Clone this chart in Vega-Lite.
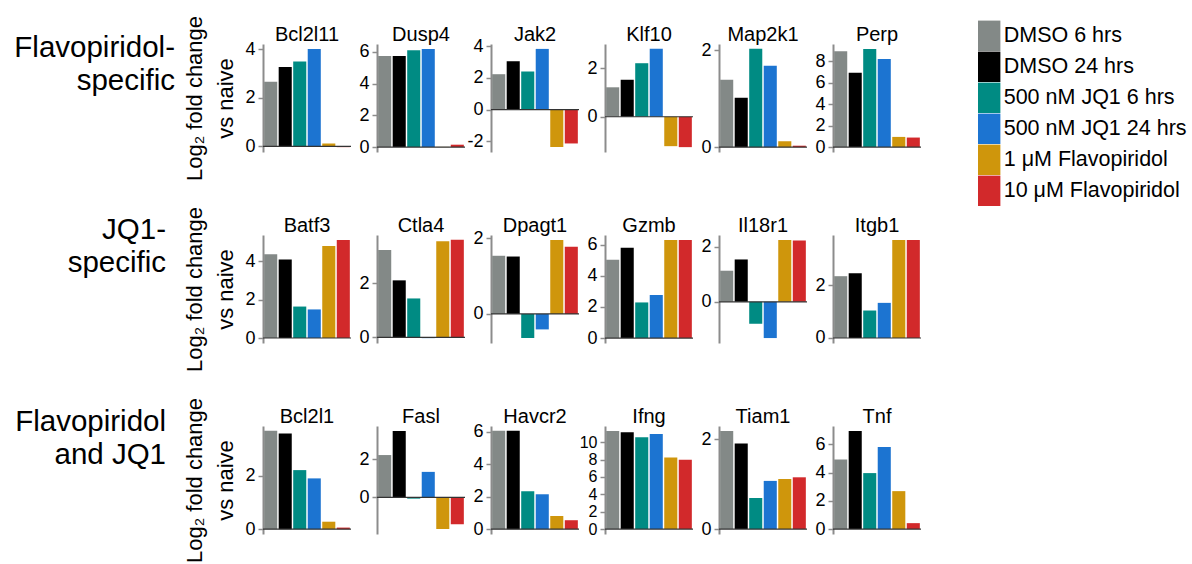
{
"$schema": "https://vega.github.io/schema/vega-lite/v6.json",
"padding": {"left": 7, "top": 15, "right": 5, "bottom": 0},
"datasets": {"d": [
{"gene":"Bcl2l11","condition":"DMSO 6 hrs","value":2.66},{"gene":"Bcl2l11","condition":"DMSO 24 hrs","value":3.27},{"gene":"Bcl2l11","condition":"500 nM JQ1 6 hrs","value":3.50},{"gene":"Bcl2l11","condition":"500 nM JQ1 24 hrs","value":4.01},{"gene":"Bcl2l11","condition":"1 μM Flavopiridol","value":0.12},{"gene":"Bcl2l11","condition":"10 μM Flavopiridol","value":-0.03},
{"gene":"Dusp4","condition":"DMSO 6 hrs","value":5.74},{"gene":"Dusp4","condition":"DMSO 24 hrs","value":5.74},{"gene":"Dusp4","condition":"500 nM JQ1 6 hrs","value":6.10},{"gene":"Dusp4","condition":"500 nM JQ1 24 hrs","value":6.18},{"gene":"Dusp4","condition":"1 μM Flavopiridol","value":0.01},{"gene":"Dusp4","condition":"10 μM Flavopiridol","value":0.15},
{"gene":"Jak2","condition":"DMSO 6 hrs","value":2.24},{"gene":"Jak2","condition":"DMSO 24 hrs","value":3.06},{"gene":"Jak2","condition":"500 nM JQ1 6 hrs","value":2.41},{"gene":"Jak2","condition":"500 nM JQ1 24 hrs","value":3.84},{"gene":"Jak2","condition":"1 μM Flavopiridol","value":-2.37},{"gene":"Jak2","condition":"10 μM Flavopiridol","value":-2.14},
{"gene":"Klf10","condition":"DMSO 6 hrs","value":1.21},{"gene":"Klf10","condition":"DMSO 24 hrs","value":1.52},{"gene":"Klf10","condition":"500 nM JQ1 6 hrs","value":2.20},{"gene":"Klf10","condition":"500 nM JQ1 24 hrs","value":2.79},{"gene":"Klf10","condition":"1 μM Flavopiridol","value":-1.21},{"gene":"Klf10","condition":"10 μM Flavopiridol","value":-1.25},
{"gene":"Map2k1","condition":"DMSO 6 hrs","value":1.39},{"gene":"Map2k1","condition":"DMSO 24 hrs","value":1.02},{"gene":"Map2k1","condition":"500 nM JQ1 6 hrs","value":2.03},{"gene":"Map2k1","condition":"500 nM JQ1 24 hrs","value":1.68},{"gene":"Map2k1","condition":"1 μM Flavopiridol","value":0.12},{"gene":"Map2k1","condition":"10 μM Flavopiridol","value":0.03},
{"gene":"Perp","condition":"DMSO 6 hrs","value":8.95},{"gene":"Perp","condition":"DMSO 24 hrs","value":6.95},{"gene":"Perp","condition":"500 nM JQ1 6 hrs","value":9.17},{"gene":"Perp","condition":"500 nM JQ1 24 hrs","value":8.22},{"gene":"Perp","condition":"1 μM Flavopiridol","value":0.95},{"gene":"Perp","condition":"10 μM Flavopiridol","value":0.89},
{"gene":"Batf3","condition":"DMSO 6 hrs","value":4.36},{"gene":"Batf3","condition":"DMSO 24 hrs","value":4.09},{"gene":"Batf3","condition":"500 nM JQ1 6 hrs","value":1.64},{"gene":"Batf3","condition":"500 nM JQ1 24 hrs","value":1.49},{"gene":"Batf3","condition":"1 μM Flavopiridol","value":4.80},{"gene":"Batf3","condition":"10 μM Flavopiridol","value":5.11},
{"gene":"Ctla4","condition":"DMSO 6 hrs","value":3.23},{"gene":"Ctla4","condition":"DMSO 24 hrs","value":2.11},{"gene":"Ctla4","condition":"500 nM JQ1 6 hrs","value":1.44},{"gene":"Ctla4","condition":"500 nM JQ1 24 hrs","value":-0.03},{"gene":"Ctla4","condition":"1 μM Flavopiridol","value":3.56},{"gene":"Ctla4","condition":"10 μM Flavopiridol","value":3.61},
{"gene":"Dpagt1","condition":"DMSO 6 hrs","value":1.54},{"gene":"Dpagt1","condition":"DMSO 24 hrs","value":1.52},{"gene":"Dpagt1","condition":"500 nM JQ1 6 hrs","value":-0.64},{"gene":"Dpagt1","condition":"500 nM JQ1 24 hrs","value":-0.41},{"gene":"Dpagt1","condition":"1 μM Flavopiridol","value":1.96},{"gene":"Dpagt1","condition":"10 μM Flavopiridol","value":1.78},
{"gene":"Gzmb","condition":"DMSO 6 hrs","value":5.03},{"gene":"Gzmb","condition":"DMSO 24 hrs","value":5.81},{"gene":"Gzmb","condition":"500 nM JQ1 6 hrs","value":2.29},{"gene":"Gzmb","condition":"500 nM JQ1 24 hrs","value":2.77},{"gene":"Gzmb","condition":"1 μM Flavopiridol","value":6.31},{"gene":"Gzmb","condition":"10 μM Flavopiridol","value":6.31},
{"gene":"Il18r1","condition":"DMSO 6 hrs","value":1.13},{"gene":"Il18r1","condition":"DMSO 24 hrs","value":1.54},{"gene":"Il18r1","condition":"500 nM JQ1 6 hrs","value":-0.80},{"gene":"Il18r1","condition":"500 nM JQ1 24 hrs","value":-1.32},{"gene":"Il18r1","condition":"1 μM Flavopiridol","value":2.25},{"gene":"Il18r1","condition":"10 μM Flavopiridol","value":2.23},
{"gene":"Itgb1","condition":"DMSO 6 hrs","value":2.34},{"gene":"Itgb1","condition":"DMSO 24 hrs","value":2.45},{"gene":"Itgb1","condition":"500 nM JQ1 6 hrs","value":1.04},{"gene":"Itgb1","condition":"500 nM JQ1 24 hrs","value":1.33},{"gene":"Itgb1","condition":"1 μM Flavopiridol","value":3.71},{"gene":"Itgb1","condition":"10 μM Flavopiridol","value":3.71},
{"gene":"Bcl2l1","condition":"DMSO 6 hrs","value":3.68},{"gene":"Bcl2l1","condition":"DMSO 24 hrs","value":3.58},{"gene":"Bcl2l1","condition":"500 nM JQ1 6 hrs","value":2.21},{"gene":"Bcl2l1","condition":"500 nM JQ1 24 hrs","value":1.90},{"gene":"Bcl2l1","condition":"1 μM Flavopiridol","value":0.28},{"gene":"Bcl2l1","condition":"10 μM Flavopiridol","value":0.06},
{"gene":"Fasl","condition":"DMSO 6 hrs","value":2.21},{"gene":"Fasl","condition":"DMSO 24 hrs","value":3.47},{"gene":"Fasl","condition":"500 nM JQ1 6 hrs","value":-0.07},{"gene":"Fasl","condition":"500 nM JQ1 24 hrs","value":1.33},{"gene":"Fasl","condition":"1 μM Flavopiridol","value":-1.66},{"gene":"Fasl","condition":"10 μM Flavopiridol","value":-1.41},
{"gene":"Havcr2","condition":"DMSO 6 hrs","value":6.06},{"gene":"Havcr2","condition":"DMSO 24 hrs","value":6.06},{"gene":"Havcr2","condition":"500 nM JQ1 6 hrs","value":2.34},{"gene":"Havcr2","condition":"500 nM JQ1 24 hrs","value":2.15},{"gene":"Havcr2","condition":"1 μM Flavopiridol","value":0.81},{"gene":"Havcr2","condition":"10 μM Flavopiridol","value":0.55},
{"gene":"Ifng","condition":"DMSO 6 hrs","value":11.30},{"gene":"Ifng","condition":"DMSO 24 hrs","value":11.15},{"gene":"Ifng","condition":"500 nM JQ1 6 hrs","value":10.57},{"gene":"Ifng","condition":"500 nM JQ1 24 hrs","value":10.96},{"gene":"Ifng","condition":"1 μM Flavopiridol","value":8.24},{"gene":"Ifng","condition":"10 μM Flavopiridol","value":7.97},
{"gene":"Tiam1","condition":"DMSO 6 hrs","value":2.18},{"gene":"Tiam1","condition":"DMSO 24 hrs","value":1.90},{"gene":"Tiam1","condition":"500 nM JQ1 6 hrs","value":0.69},{"gene":"Tiam1","condition":"500 nM JQ1 24 hrs","value":1.07},{"gene":"Tiam1","condition":"1 μM Flavopiridol","value":1.11},{"gene":"Tiam1","condition":"10 μM Flavopiridol","value":1.15},
{"gene":"Tnf","condition":"DMSO 6 hrs","value":4.93},{"gene":"Tnf","condition":"DMSO 24 hrs","value":6.96},{"gene":"Tnf","condition":"500 nM JQ1 6 hrs","value":3.97},{"gene":"Tnf","condition":"500 nM JQ1 24 hrs","value":5.82},{"gene":"Tnf","condition":"1 μM Flavopiridol","value":2.69},{"gene":"Tnf","condition":"10 μM Flavopiridol","value":0.42}
]},
"config": {
 "font": "Liberation Sans",
 "view": {"stroke": null},
 "axisY": {"domainColor": "#8c8c8c", "domainWidth": 2, "tickColor": "#8c8c8c", "tickSize": 5, "tickWidth": 1.5, "labelFontSize": 18, "labelColor": "#000", "labelPadding": 3, "labelFont": "Liberation Sans", "grid": false, "labelOverlap": false, "titleFontSize": 22, "titleFontWeight": "normal", "titleColor": "#000", "titleFont": "Liberation Sans", "titleLineHeight": 31, "titlePadding": 7},
 "bar": {"strokeWidth": 0},
 "rule": {"color": "#333333", "strokeWidth": 1.2},
 "text": {"font": "Liberation Sans", "color": "#000"},
 "legend": {"labelFontSize": 21.5, "labelFont": "Liberation Sans", "labelColor": "#000", "labelLimit": 400, "symbolStrokeWidth": 0, "rowPadding": 0, "labelOffset": 3, "padding": 0, "orient": "none", "legendX": 970.7, "legendY": -19.7}
},
"spacing": 25,
"vconcat": [
{"bounds": "flush", "spacing": 26, "hconcat": [
 {"width": 230, "height": 108, "data": {"values": [{"label": "Flavopiridol-\nspecific"}]}, "mark": {"type": "text", "align": "right", "baseline": "alphabetic", "fontSize": 29.5, "lineHeight": 33, "lineBreak": "\n", "dx": -62, "dy": -41}, "encoding": {"text": {"field": "label", "type": "nominal"}, "x": {"value": "width"}}},
  {"width": 88, "height": 108, "layer": [{"data": {"name": "d"}, "transform": [{"filter": "datum.gene === 'Bcl2l11'"}], "mark": "bar", "encoding": {"x": {"field": "condition", "type": "nominal", "sort": ["DMSO 6 hrs","DMSO 24 hrs","500 nM JQ1 6 hrs","500 nM JQ1 24 hrs","1 μM Flavopiridol","10 μM Flavopiridol"], "axis": null, "scale": {"paddingInner": 0.1, "paddingOuter": 0.08}}, "y": {"field": "value", "type": "quantitative", "scale": {"domain": [-0.23, 4.22], "nice": false, "zero": false}, "axis": {"values": [0, 2, 4], "tickCount": 12, "labelExpr": "'' + datum.value", "title": ["Log₂ fold change", "vs naive"]}}, "color": {"field": "condition", "type": "nominal", "scale": {"domain": ["DMSO 6 hrs","DMSO 24 hrs","500 nM JQ1 6 hrs","500 nM JQ1 24 hrs","1 μM Flavopiridol","10 μM Flavopiridol"], "range": ["#838987","#000000","#008B83","#1C74D1","#CF960C","#D2292B"]}, "legend": {"title": null, "symbolType": "M-1,-1.36H1V1.36H-1Z", "symbolSize": 500}}}}, {"data": {"values": [{}]}, "mark": "rule", "encoding": {"y": {"datum": 0, "type": "quantitative"}}}, {"data": {"values": [{"gene": "Bcl2l11"}]}, "mark": {"type": "text", "fontSize": 20, "baseline": "alphabetic", "dy": -3}, "encoding": {"text": {"field": "gene", "type": "nominal"}, "y": {"datum": 4.22, "type": "quantitative"}}}]},
  {"width": 88, "height": 108, "layer": [{"data": {"name": "d"}, "transform": [{"filter": "datum.gene === 'Dusp4'"}], "mark": "bar", "encoding": {"x": {"field": "condition", "type": "nominal", "sort": ["DMSO 6 hrs","DMSO 24 hrs","500 nM JQ1 6 hrs","500 nM JQ1 24 hrs","1 μM Flavopiridol","10 μM Flavopiridol"], "axis": null, "scale": {"paddingInner": 0.1, "paddingOuter": 0.08}}, "y": {"field": "value", "type": "quantitative", "scale": {"domain": [-0.31, 6.49], "nice": false, "zero": false}, "axis": {"values": [0, 2, 4, 6], "tickCount": 12, "labelExpr": "'' + datum.value", "title": null}}, "color": {"field": "condition", "type": "nominal", "scale": {"domain": ["DMSO 6 hrs","DMSO 24 hrs","500 nM JQ1 6 hrs","500 nM JQ1 24 hrs","1 μM Flavopiridol","10 μM Flavopiridol"], "range": ["#838987","#000000","#008B83","#1C74D1","#CF960C","#D2292B"]}, "legend": {"title": null, "symbolType": "M-1,-1.36H1V1.36H-1Z", "symbolSize": 500}}}}, {"data": {"values": [{}]}, "mark": "rule", "encoding": {"y": {"datum": 0, "type": "quantitative"}}}, {"data": {"values": [{"gene": "Dusp4"}]}, "mark": {"type": "text", "fontSize": 20, "baseline": "alphabetic", "dy": -3}, "encoding": {"text": {"field": "gene", "type": "nominal"}, "y": {"datum": 6.49, "type": "quantitative"}}}]},
  {"width": 88, "height": 108, "layer": [{"data": {"name": "d"}, "transform": [{"filter": "datum.gene === 'Jak2'"}], "mark": "bar", "encoding": {"x": {"field": "condition", "type": "nominal", "sort": ["DMSO 6 hrs","DMSO 24 hrs","500 nM JQ1 6 hrs","500 nM JQ1 24 hrs","1 μM Flavopiridol","10 μM Flavopiridol"], "axis": null, "scale": {"paddingInner": 0.1, "paddingOuter": 0.08}}, "y": {"field": "value", "type": "quantitative", "scale": {"domain": [-2.68, 4.15], "nice": false, "zero": false}, "axis": {"values": [-2, 0, 2, 4], "tickCount": 12, "labelExpr": "'' + datum.value", "title": null}}, "color": {"field": "condition", "type": "nominal", "scale": {"domain": ["DMSO 6 hrs","DMSO 24 hrs","500 nM JQ1 6 hrs","500 nM JQ1 24 hrs","1 μM Flavopiridol","10 μM Flavopiridol"], "range": ["#838987","#000000","#008B83","#1C74D1","#CF960C","#D2292B"]}, "legend": {"title": null, "symbolType": "M-1,-1.36H1V1.36H-1Z", "symbolSize": 500}}}}, {"data": {"values": [{}]}, "mark": "rule", "encoding": {"y": {"datum": 0, "type": "quantitative"}}}, {"data": {"values": [{"gene": "Jak2"}]}, "mark": {"type": "text", "fontSize": 20, "baseline": "alphabetic", "dy": -3}, "encoding": {"text": {"field": "gene", "type": "nominal"}, "y": {"datum": 4.15, "type": "quantitative"}}}]},
  {"width": 88, "height": 108, "layer": [{"data": {"name": "d"}, "transform": [{"filter": "datum.gene === 'Klf10'"}], "mark": "bar", "encoding": {"x": {"field": "condition", "type": "nominal", "sort": ["DMSO 6 hrs","DMSO 24 hrs","500 nM JQ1 6 hrs","500 nM JQ1 24 hrs","1 μM Flavopiridol","10 μM Flavopiridol"], "axis": null, "scale": {"paddingInner": 0.1, "paddingOuter": 0.08}}, "y": {"field": "value", "type": "quantitative", "scale": {"domain": [-1.45, 2.99], "nice": false, "zero": false}, "axis": {"values": [0, 2], "tickCount": 12, "labelExpr": "'' + datum.value", "title": null}}, "color": {"field": "condition", "type": "nominal", "scale": {"domain": ["DMSO 6 hrs","DMSO 24 hrs","500 nM JQ1 6 hrs","500 nM JQ1 24 hrs","1 μM Flavopiridol","10 μM Flavopiridol"], "range": ["#838987","#000000","#008B83","#1C74D1","#CF960C","#D2292B"]}, "legend": {"title": null, "symbolType": "M-1,-1.36H1V1.36H-1Z", "symbolSize": 500}}}}, {"data": {"values": [{}]}, "mark": "rule", "encoding": {"y": {"datum": 0, "type": "quantitative"}}}, {"data": {"values": [{"gene": "Klf10"}]}, "mark": {"type": "text", "fontSize": 20, "baseline": "alphabetic", "dy": -3}, "encoding": {"text": {"field": "gene", "type": "nominal"}, "y": {"datum": 2.99, "type": "quantitative"}}}]},
  {"width": 88, "height": 108, "layer": [{"data": {"name": "d"}, "transform": [{"filter": "datum.gene === 'Map2k1'"}], "mark": "bar", "encoding": {"x": {"field": "condition", "type": "nominal", "sort": ["DMSO 6 hrs","DMSO 24 hrs","500 nM JQ1 6 hrs","500 nM JQ1 24 hrs","1 μM Flavopiridol","10 μM Flavopiridol"], "axis": null, "scale": {"paddingInner": 0.1, "paddingOuter": 0.08}}, "y": {"field": "value", "type": "quantitative", "scale": {"domain": [-0.10, 2.13], "nice": false, "zero": false}, "axis": {"values": [0, 2], "tickCount": 12, "labelExpr": "'' + datum.value", "title": null}}, "color": {"field": "condition", "type": "nominal", "scale": {"domain": ["DMSO 6 hrs","DMSO 24 hrs","500 nM JQ1 6 hrs","500 nM JQ1 24 hrs","1 μM Flavopiridol","10 μM Flavopiridol"], "range": ["#838987","#000000","#008B83","#1C74D1","#CF960C","#D2292B"]}, "legend": {"title": null, "symbolType": "M-1,-1.36H1V1.36H-1Z", "symbolSize": 500}}}}, {"data": {"values": [{}]}, "mark": "rule", "encoding": {"y": {"datum": 0, "type": "quantitative"}}}, {"data": {"values": [{"gene": "Map2k1"}]}, "mark": {"type": "text", "fontSize": 20, "baseline": "alphabetic", "dy": -3}, "encoding": {"text": {"field": "gene", "type": "nominal"}, "y": {"datum": 2.13, "type": "quantitative"}}}]},
  {"width": 88, "height": 108, "layer": [{"data": {"name": "d"}, "transform": [{"filter": "datum.gene === 'Perp'"}], "mark": "bar", "encoding": {"x": {"field": "condition", "type": "nominal", "sort": ["DMSO 6 hrs","DMSO 24 hrs","500 nM JQ1 6 hrs","500 nM JQ1 24 hrs","1 μM Flavopiridol","10 μM Flavopiridol"], "axis": null, "scale": {"paddingInner": 0.1, "paddingOuter": 0.08}}, "y": {"field": "value", "type": "quantitative", "scale": {"domain": [-0.46, 9.63], "nice": false, "zero": false}, "axis": {"values": [0, 2, 4, 6, 8], "tickCount": 12, "labelExpr": "'' + datum.value", "title": null}}, "color": {"field": "condition", "type": "nominal", "scale": {"domain": ["DMSO 6 hrs","DMSO 24 hrs","500 nM JQ1 6 hrs","500 nM JQ1 24 hrs","1 μM Flavopiridol","10 μM Flavopiridol"], "range": ["#838987","#000000","#008B83","#1C74D1","#CF960C","#D2292B"]}, "legend": {"title": null, "symbolType": "M-1,-1.36H1V1.36H-1Z", "symbolSize": 500}}}}, {"data": {"values": [{}]}, "mark": "rule", "encoding": {"y": {"datum": 0, "type": "quantitative"}}}, {"data": {"values": [{"gene": "Perp"}]}, "mark": {"type": "text", "fontSize": 20, "baseline": "alphabetic", "dy": -3}, "encoding": {"text": {"field": "gene", "type": "nominal"}, "y": {"datum": 9.63, "type": "quantitative"}}}]}
]},
{"bounds": "flush", "spacing": 26, "hconcat": [
 {"width": 230, "height": 108, "data": {"values": [{"label": "JQ1-\nspecific"}]}, "mark": {"type": "text", "align": "right", "baseline": "alphabetic", "fontSize": 29.5, "lineHeight": 33, "lineBreak": "\n", "dx": -71, "dy": -50}, "encoding": {"text": {"field": "label", "type": "nominal"}, "x": {"value": "width"}}},
  {"width": 88, "height": 108, "layer": [{"data": {"name": "d"}, "transform": [{"filter": "datum.gene === 'Batf3'"}], "mark": "bar", "encoding": {"x": {"field": "condition", "type": "nominal", "sort": ["DMSO 6 hrs","DMSO 24 hrs","500 nM JQ1 6 hrs","500 nM JQ1 24 hrs","1 μM Flavopiridol","10 μM Flavopiridol"], "axis": null, "scale": {"paddingInner": 0.1, "paddingOuter": 0.08}}, "y": {"field": "value", "type": "quantitative", "scale": {"domain": [-0.26, 5.37], "nice": false, "zero": false}, "axis": {"values": [0, 2, 4], "tickCount": 12, "labelExpr": "'' + datum.value", "title": ["Log₂ fold change", "vs naive"]}}, "color": {"field": "condition", "type": "nominal", "scale": {"domain": ["DMSO 6 hrs","DMSO 24 hrs","500 nM JQ1 6 hrs","500 nM JQ1 24 hrs","1 μM Flavopiridol","10 μM Flavopiridol"], "range": ["#838987","#000000","#008B83","#1C74D1","#CF960C","#D2292B"]}, "legend": {"title": null, "symbolType": "M-1,-1.36H1V1.36H-1Z", "symbolSize": 500}}}}, {"data": {"values": [{}]}, "mark": "rule", "encoding": {"y": {"datum": 0, "type": "quantitative"}}}, {"data": {"values": [{"gene": "Batf3"}]}, "mark": {"type": "text", "fontSize": 20, "baseline": "alphabetic", "dy": -3}, "encoding": {"text": {"field": "gene", "type": "nominal"}, "y": {"datum": 5.37, "type": "quantitative"}}}]},
  {"width": 88, "height": 108, "layer": [{"data": {"name": "d"}, "transform": [{"filter": "datum.gene === 'Ctla4'"}], "mark": "bar", "encoding": {"x": {"field": "condition", "type": "nominal", "sort": ["DMSO 6 hrs","DMSO 24 hrs","500 nM JQ1 6 hrs","500 nM JQ1 24 hrs","1 μM Flavopiridol","10 μM Flavopiridol"], "axis": null, "scale": {"paddingInner": 0.1, "paddingOuter": 0.08}}, "y": {"field": "value", "type": "quantitative", "scale": {"domain": [-0.21, 3.79], "nice": false, "zero": false}, "axis": {"values": [0, 2], "tickCount": 12, "labelExpr": "'' + datum.value", "title": null}}, "color": {"field": "condition", "type": "nominal", "scale": {"domain": ["DMSO 6 hrs","DMSO 24 hrs","500 nM JQ1 6 hrs","500 nM JQ1 24 hrs","1 μM Flavopiridol","10 μM Flavopiridol"], "range": ["#838987","#000000","#008B83","#1C74D1","#CF960C","#D2292B"]}, "legend": {"title": null, "symbolType": "M-1,-1.36H1V1.36H-1Z", "symbolSize": 500}}}}, {"data": {"values": [{}]}, "mark": "rule", "encoding": {"y": {"datum": 0, "type": "quantitative"}}}, {"data": {"values": [{"gene": "Ctla4"}]}, "mark": {"type": "text", "fontSize": 20, "baseline": "alphabetic", "dy": -3}, "encoding": {"text": {"field": "gene", "type": "nominal"}, "y": {"datum": 3.79, "type": "quantitative"}}}]},
  {"width": 88, "height": 108, "layer": [{"data": {"name": "d"}, "transform": [{"filter": "datum.gene === 'Dpagt1'"}], "mark": "bar", "encoding": {"x": {"field": "condition", "type": "nominal", "sort": ["DMSO 6 hrs","DMSO 24 hrs","500 nM JQ1 6 hrs","500 nM JQ1 24 hrs","1 μM Flavopiridol","10 μM Flavopiridol"], "axis": null, "scale": {"paddingInner": 0.1, "paddingOuter": 0.08}}, "y": {"field": "value", "type": "quantitative", "scale": {"domain": [-0.77, 2.09], "nice": false, "zero": false}, "axis": {"values": [0, 2], "tickCount": 12, "labelExpr": "'' + datum.value", "title": null}}, "color": {"field": "condition", "type": "nominal", "scale": {"domain": ["DMSO 6 hrs","DMSO 24 hrs","500 nM JQ1 6 hrs","500 nM JQ1 24 hrs","1 μM Flavopiridol","10 μM Flavopiridol"], "range": ["#838987","#000000","#008B83","#1C74D1","#CF960C","#D2292B"]}, "legend": {"title": null, "symbolType": "M-1,-1.36H1V1.36H-1Z", "symbolSize": 500}}}}, {"data": {"values": [{}]}, "mark": "rule", "encoding": {"y": {"datum": 0, "type": "quantitative"}}}, {"data": {"values": [{"gene": "Dpagt1"}]}, "mark": {"type": "text", "fontSize": 20, "baseline": "alphabetic", "dy": -3}, "encoding": {"text": {"field": "gene", "type": "nominal"}, "y": {"datum": 2.09, "type": "quantitative"}}}]},
  {"width": 88, "height": 108, "layer": [{"data": {"name": "d"}, "transform": [{"filter": "datum.gene === 'Gzmb'"}], "mark": "bar", "encoding": {"x": {"field": "condition", "type": "nominal", "sort": ["DMSO 6 hrs","DMSO 24 hrs","500 nM JQ1 6 hrs","500 nM JQ1 24 hrs","1 μM Flavopiridol","10 μM Flavopiridol"], "axis": null, "scale": {"paddingInner": 0.1, "paddingOuter": 0.08}}, "y": {"field": "value", "type": "quantitative", "scale": {"domain": [-0.32, 6.63], "nice": false, "zero": false}, "axis": {"values": [0, 2, 4, 6], "tickCount": 12, "labelExpr": "'' + datum.value", "title": null}}, "color": {"field": "condition", "type": "nominal", "scale": {"domain": ["DMSO 6 hrs","DMSO 24 hrs","500 nM JQ1 6 hrs","500 nM JQ1 24 hrs","1 μM Flavopiridol","10 μM Flavopiridol"], "range": ["#838987","#000000","#008B83","#1C74D1","#CF960C","#D2292B"]}, "legend": {"title": null, "symbolType": "M-1,-1.36H1V1.36H-1Z", "symbolSize": 500}}}}, {"data": {"values": [{}]}, "mark": "rule", "encoding": {"y": {"datum": 0, "type": "quantitative"}}}, {"data": {"values": [{"gene": "Gzmb"}]}, "mark": {"type": "text", "fontSize": 20, "baseline": "alphabetic", "dy": -3}, "encoding": {"text": {"field": "gene", "type": "nominal"}, "y": {"datum": 6.63, "type": "quantitative"}}}]},
  {"width": 88, "height": 108, "layer": [{"data": {"name": "d"}, "transform": [{"filter": "datum.gene === 'Il18r1'"}], "mark": "bar", "encoding": {"x": {"field": "condition", "type": "nominal", "sort": ["DMSO 6 hrs","DMSO 24 hrs","500 nM JQ1 6 hrs","500 nM JQ1 24 hrs","1 μM Flavopiridol","10 μM Flavopiridol"], "axis": null, "scale": {"paddingInner": 0.1, "paddingOuter": 0.08}}, "y": {"field": "value", "type": "quantitative", "scale": {"domain": [-1.50, 2.43], "nice": false, "zero": false}, "axis": {"values": [0, 2], "tickCount": 12, "labelExpr": "'' + datum.value", "title": null}}, "color": {"field": "condition", "type": "nominal", "scale": {"domain": ["DMSO 6 hrs","DMSO 24 hrs","500 nM JQ1 6 hrs","500 nM JQ1 24 hrs","1 μM Flavopiridol","10 μM Flavopiridol"], "range": ["#838987","#000000","#008B83","#1C74D1","#CF960C","#D2292B"]}, "legend": {"title": null, "symbolType": "M-1,-1.36H1V1.36H-1Z", "symbolSize": 500}}}}, {"data": {"values": [{}]}, "mark": "rule", "encoding": {"y": {"datum": 0, "type": "quantitative"}}}, {"data": {"values": [{"gene": "Il18r1"}]}, "mark": {"type": "text", "fontSize": 20, "baseline": "alphabetic", "dy": -3}, "encoding": {"text": {"field": "gene", "type": "nominal"}, "y": {"datum": 2.43, "type": "quantitative"}}}]},
  {"width": 88, "height": 108, "layer": [{"data": {"name": "d"}, "transform": [{"filter": "datum.gene === 'Itgb1'"}], "mark": "bar", "encoding": {"x": {"field": "condition", "type": "nominal", "sort": ["DMSO 6 hrs","DMSO 24 hrs","500 nM JQ1 6 hrs","500 nM JQ1 24 hrs","1 μM Flavopiridol","10 μM Flavopiridol"], "axis": null, "scale": {"paddingInner": 0.1, "paddingOuter": 0.08}}, "y": {"field": "value", "type": "quantitative", "scale": {"domain": [-0.19, 3.90], "nice": false, "zero": false}, "axis": {"values": [0, 2], "tickCount": 12, "labelExpr": "'' + datum.value", "title": null}}, "color": {"field": "condition", "type": "nominal", "scale": {"domain": ["DMSO 6 hrs","DMSO 24 hrs","500 nM JQ1 6 hrs","500 nM JQ1 24 hrs","1 μM Flavopiridol","10 μM Flavopiridol"], "range": ["#838987","#000000","#008B83","#1C74D1","#CF960C","#D2292B"]}, "legend": {"title": null, "symbolType": "M-1,-1.36H1V1.36H-1Z", "symbolSize": 500}}}}, {"data": {"values": [{}]}, "mark": "rule", "encoding": {"y": {"datum": 0, "type": "quantitative"}}}, {"data": {"values": [{"gene": "Itgb1"}]}, "mark": {"type": "text", "fontSize": 20, "baseline": "alphabetic", "dy": -3}, "encoding": {"text": {"field": "gene", "type": "nominal"}, "y": {"datum": 3.90, "type": "quantitative"}}}]}
]},
{"bounds": "flush", "spacing": 26, "hconcat": [
 {"width": 230, "height": 108, "data": {"values": [{"label": "Flavopiridol\nand JQ1"}]}, "mark": {"type": "text", "align": "right", "baseline": "alphabetic", "fontSize": 29.5, "lineHeight": 33, "lineBreak": "\n", "dx": -71, "dy": -49}, "encoding": {"text": {"field": "label", "type": "nominal"}, "x": {"value": "width"}}},
  {"width": 88, "height": 108, "layer": [{"data": {"name": "d"}, "transform": [{"filter": "datum.gene === 'Bcl2l1'"}], "mark": "bar", "encoding": {"x": {"field": "condition", "type": "nominal", "sort": ["DMSO 6 hrs","DMSO 24 hrs","500 nM JQ1 6 hrs","500 nM JQ1 24 hrs","1 μM Flavopiridol","10 μM Flavopiridol"], "axis": null, "scale": {"paddingInner": 0.1, "paddingOuter": 0.08}}, "y": {"field": "value", "type": "quantitative", "scale": {"domain": [-0.18, 3.86], "nice": false, "zero": false}, "axis": {"values": [0, 2], "tickCount": 12, "labelExpr": "'' + datum.value", "title": ["Log₂ fold change", "vs naive"]}}, "color": {"field": "condition", "type": "nominal", "scale": {"domain": ["DMSO 6 hrs","DMSO 24 hrs","500 nM JQ1 6 hrs","500 nM JQ1 24 hrs","1 μM Flavopiridol","10 μM Flavopiridol"], "range": ["#838987","#000000","#008B83","#1C74D1","#CF960C","#D2292B"]}, "legend": {"title": null, "symbolType": "M-1,-1.36H1V1.36H-1Z", "symbolSize": 500}}}}, {"data": {"values": [{}]}, "mark": "rule", "encoding": {"y": {"datum": 0, "type": "quantitative"}}}, {"data": {"values": [{"gene": "Bcl2l1"}]}, "mark": {"type": "text", "fontSize": 20, "baseline": "alphabetic", "dy": -3}, "encoding": {"text": {"field": "gene", "type": "nominal"}, "y": {"datum": 3.86, "type": "quantitative"}}}]},
  {"width": 88, "height": 108, "layer": [{"data": {"name": "d"}, "transform": [{"filter": "datum.gene === 'Fasl'"}], "mark": "bar", "encoding": {"x": {"field": "condition", "type": "nominal", "sort": ["DMSO 6 hrs","DMSO 24 hrs","500 nM JQ1 6 hrs","500 nM JQ1 24 hrs","1 μM Flavopiridol","10 μM Flavopiridol"], "axis": null, "scale": {"paddingInner": 0.1, "paddingOuter": 0.08}}, "y": {"field": "value", "type": "quantitative", "scale": {"domain": [-1.92, 3.73], "nice": false, "zero": false}, "axis": {"values": [0, 2], "tickCount": 12, "labelExpr": "'' + datum.value", "title": null}}, "color": {"field": "condition", "type": "nominal", "scale": {"domain": ["DMSO 6 hrs","DMSO 24 hrs","500 nM JQ1 6 hrs","500 nM JQ1 24 hrs","1 μM Flavopiridol","10 μM Flavopiridol"], "range": ["#838987","#000000","#008B83","#1C74D1","#CF960C","#D2292B"]}, "legend": {"title": null, "symbolType": "M-1,-1.36H1V1.36H-1Z", "symbolSize": 500}}}}, {"data": {"values": [{}]}, "mark": "rule", "encoding": {"y": {"datum": 0, "type": "quantitative"}}}, {"data": {"values": [{"gene": "Fasl"}]}, "mark": {"type": "text", "fontSize": 20, "baseline": "alphabetic", "dy": -3}, "encoding": {"text": {"field": "gene", "type": "nominal"}, "y": {"datum": 3.73, "type": "quantitative"}}}]},
  {"width": 88, "height": 108, "layer": [{"data": {"name": "d"}, "transform": [{"filter": "datum.gene === 'Havcr2'"}], "mark": "bar", "encoding": {"x": {"field": "condition", "type": "nominal", "sort": ["DMSO 6 hrs","DMSO 24 hrs","500 nM JQ1 6 hrs","500 nM JQ1 24 hrs","1 μM Flavopiridol","10 μM Flavopiridol"], "axis": null, "scale": {"paddingInner": 0.1, "paddingOuter": 0.08}}, "y": {"field": "value", "type": "quantitative", "scale": {"domain": [-0.30, 6.36], "nice": false, "zero": false}, "axis": {"values": [0, 2, 4, 6], "tickCount": 12, "labelExpr": "'' + datum.value", "title": null}}, "color": {"field": "condition", "type": "nominal", "scale": {"domain": ["DMSO 6 hrs","DMSO 24 hrs","500 nM JQ1 6 hrs","500 nM JQ1 24 hrs","1 μM Flavopiridol","10 μM Flavopiridol"], "range": ["#838987","#000000","#008B83","#1C74D1","#CF960C","#D2292B"]}, "legend": {"title": null, "symbolType": "M-1,-1.36H1V1.36H-1Z", "symbolSize": 500}}}}, {"data": {"values": [{}]}, "mark": "rule", "encoding": {"y": {"datum": 0, "type": "quantitative"}}}, {"data": {"values": [{"gene": "Havcr2"}]}, "mark": {"type": "text", "fontSize": 20, "baseline": "alphabetic", "dy": -3}, "encoding": {"text": {"field": "gene", "type": "nominal"}, "y": {"datum": 6.36, "type": "quantitative"}}}]},
  {"width": 88, "height": 108, "layer": [{"data": {"name": "d"}, "transform": [{"filter": "datum.gene === 'Ifng'"}], "mark": "bar", "encoding": {"x": {"field": "condition", "type": "nominal", "sort": ["DMSO 6 hrs","DMSO 24 hrs","500 nM JQ1 6 hrs","500 nM JQ1 24 hrs","1 μM Flavopiridol","10 μM Flavopiridol"], "axis": null, "scale": {"paddingInner": 0.1, "paddingOuter": 0.08}}, "y": {"field": "value", "type": "quantitative", "scale": {"domain": [-0.57, 11.87], "nice": false, "zero": false}, "axis": {"values": [0, 2, 4, 6, 8, 10], "tickCount": 12, "labelFontSize": 16, "labelExpr": "'' + datum.value", "title": null}}, "color": {"field": "condition", "type": "nominal", "scale": {"domain": ["DMSO 6 hrs","DMSO 24 hrs","500 nM JQ1 6 hrs","500 nM JQ1 24 hrs","1 μM Flavopiridol","10 μM Flavopiridol"], "range": ["#838987","#000000","#008B83","#1C74D1","#CF960C","#D2292B"]}, "legend": {"title": null, "symbolType": "M-1,-1.36H1V1.36H-1Z", "symbolSize": 500}}}}, {"data": {"values": [{}]}, "mark": "rule", "encoding": {"y": {"datum": 0, "type": "quantitative"}}}, {"data": {"values": [{"gene": "Ifng"}]}, "mark": {"type": "text", "fontSize": 20, "baseline": "alphabetic", "dy": -3}, "encoding": {"text": {"field": "gene", "type": "nominal"}, "y": {"datum": 11.87, "type": "quantitative"}}}]},
  {"width": 88, "height": 108, "layer": [{"data": {"name": "d"}, "transform": [{"filter": "datum.gene === 'Tiam1'"}], "mark": "bar", "encoding": {"x": {"field": "condition", "type": "nominal", "sort": ["DMSO 6 hrs","DMSO 24 hrs","500 nM JQ1 6 hrs","500 nM JQ1 24 hrs","1 μM Flavopiridol","10 μM Flavopiridol"], "axis": null, "scale": {"paddingInner": 0.1, "paddingOuter": 0.08}}, "y": {"field": "value", "type": "quantitative", "scale": {"domain": [-0.11, 2.29], "nice": false, "zero": false}, "axis": {"values": [0, 2], "tickCount": 12, "labelExpr": "'' + datum.value", "title": null}}, "color": {"field": "condition", "type": "nominal", "scale": {"domain": ["DMSO 6 hrs","DMSO 24 hrs","500 nM JQ1 6 hrs","500 nM JQ1 24 hrs","1 μM Flavopiridol","10 μM Flavopiridol"], "range": ["#838987","#000000","#008B83","#1C74D1","#CF960C","#D2292B"]}, "legend": {"title": null, "symbolType": "M-1,-1.36H1V1.36H-1Z", "symbolSize": 500}}}}, {"data": {"values": [{}]}, "mark": "rule", "encoding": {"y": {"datum": 0, "type": "quantitative"}}}, {"data": {"values": [{"gene": "Tiam1"}]}, "mark": {"type": "text", "fontSize": 20, "baseline": "alphabetic", "dy": -3}, "encoding": {"text": {"field": "gene", "type": "nominal"}, "y": {"datum": 2.29, "type": "quantitative"}}}]},
  {"width": 88, "height": 108, "layer": [{"data": {"name": "d"}, "transform": [{"filter": "datum.gene === 'Tnf'"}], "mark": "bar", "encoding": {"x": {"field": "condition", "type": "nominal", "sort": ["DMSO 6 hrs","DMSO 24 hrs","500 nM JQ1 6 hrs","500 nM JQ1 24 hrs","1 μM Flavopiridol","10 μM Flavopiridol"], "axis": null, "scale": {"paddingInner": 0.1, "paddingOuter": 0.08}}, "y": {"field": "value", "type": "quantitative", "scale": {"domain": [-0.35, 7.31], "nice": false, "zero": false}, "axis": {"values": [0, 2, 4, 6], "tickCount": 12, "labelExpr": "'' + datum.value", "title": null}}, "color": {"field": "condition", "type": "nominal", "scale": {"domain": ["DMSO 6 hrs","DMSO 24 hrs","500 nM JQ1 6 hrs","500 nM JQ1 24 hrs","1 μM Flavopiridol","10 μM Flavopiridol"], "range": ["#838987","#000000","#008B83","#1C74D1","#CF960C","#D2292B"]}, "legend": {"title": null, "symbolType": "M-1,-1.36H1V1.36H-1Z", "symbolSize": 500}}}}, {"data": {"values": [{}]}, "mark": "rule", "encoding": {"y": {"datum": 0, "type": "quantitative"}}}, {"data": {"values": [{"gene": "Tnf"}]}, "mark": {"type": "text", "fontSize": 20, "baseline": "alphabetic", "dy": -3}, "encoding": {"text": {"field": "gene", "type": "nominal"}, "y": {"datum": 7.31, "type": "quantitative"}}}]}
]}
]
}
